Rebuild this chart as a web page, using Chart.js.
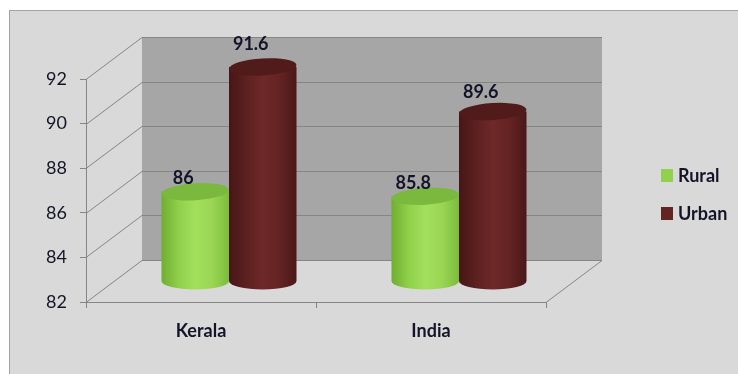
<!DOCTYPE html>
<html>
<head>
<meta charset="utf-8">
<script src="https://cdn.jsdelivr.net/npm/chart.js@4"></script>
<style>
  html, body { margin: 0; padding: 0; background: #ffffff; }
  canvas { display: block; }
</style>
</head>
<body>
<canvas id="chart" width="738" height="374"></canvas>
<script>
// Data
const categories = ['Kerala', 'India'];
const ruralValues = [86, 85.8];
const urbanValues = [91.6, 89.6];
const yTicks = [82, 84, 86, 88, 90, 92];

const seriesNames = ['Rural', 'Urban'];
const seriesColors = ['#92d050', '#632523'];

// Depth of the 3D box (back wall is shifted right / up from the front axis)
const DEPTH_X = 56;
const DEPTH_Y = -42;
const TEXT = '#141428';

/**
 * Cylinder shading per series
 */
const SHADES = [
    { stops: ['#6fae30', '#8fcf4a', '#a2e05c', '#9ad654', '#7cbc3c'], top: '#7ab93e' },
    { stops: ['#471616', '#5c2020', '#6e2828', '#642323', '#4a1818'], top: '#511b1b' }
];

function drawCylinder(ctx, cx, topY, bottomY, w, shade) {
    const rx = w / 2;
    const ry = 8.5;
    const grad = ctx.createLinearGradient(cx - rx, 0, cx + rx, 0);
    shade.stops.forEach((c, i) => grad.addColorStop(i / (shade.stops.length - 1), c));

    ctx.beginPath();
    ctx.moveTo(cx - rx, topY);
    ctx.lineTo(cx - rx, bottomY);
    ctx.ellipse(cx, bottomY, rx, ry, 0, Math.PI, 0, true);
    ctx.lineTo(cx + rx, topY);
    ctx.closePath();
    ctx.fillStyle = grad;
    ctx.fill();

    // top face, slightly tilted like the original
    ctx.beginPath();
    ctx.ellipse(cx, topY, rx, ry, -0.06, 0, Math.PI * 2);
    ctx.fillStyle = shade.top;
    ctx.fill();
}

const boxPlugin = {
    id: 'box3d',
    beforeDraw(chart) {
        const ctx = chart.ctx;
        ctx.save();
        ctx.fillStyle = '#ffffff';
        ctx.fillRect(0, 0, chart.width, chart.height);
        ctx.fillStyle = '#d9d9d9';
        ctx.fillRect(9.5, 10.5, chart.width, chart.height);
        ctx.strokeStyle = '#a3a3a3';
        ctx.lineWidth = 1;
        ctx.strokeRect(9.5, 10.5, chart.width, chart.height);
        ctx.restore();
    },
    beforeDatasetsDraw(chart) {
        const ctx = chart.ctx;
        const area = chart.chartArea;
        const y = chart.scales.y;
        const backLeft = area.left + DEPTH_X;
        const backRight = area.right + DEPTH_X;
        const backTop = y.getPixelForValue(yTicks[yTicks.length - 1]) + DEPTH_Y;
        const backBottom = y.getPixelForValue(yTicks[0]) + DEPTH_Y;

        ctx.save();
        // back wall
        ctx.fillStyle = '#a6a6a6';
        ctx.fillRect(backLeft, backTop, backRight - backLeft, backBottom - backTop);

        // grid on back wall and side wall diagonals
        ctx.strokeStyle = '#858585';
        ctx.lineWidth = 1;
        yTicks.forEach(v => {
            const py = Math.round(y.getPixelForValue(v)) + 0.5;
            ctx.beginPath();
            ctx.moveTo(backLeft, py + DEPTH_Y);
            ctx.lineTo(backRight, py + DEPTH_Y);
            ctx.stroke();
            ctx.beginPath();
            ctx.moveTo(area.left, py);
            ctx.lineTo(backLeft, py + DEPTH_Y);
            ctx.stroke();
        });

        // floor right edge
        ctx.beginPath();
        ctx.moveTo(area.right, area.bottom + 0.5);
        ctx.lineTo(backRight, area.bottom + DEPTH_Y + 0.5);
        ctx.stroke();

        // cylinders at mid depth
        const baseY = y.getPixelForValue(yTicks[0]) + DEPTH_Y / 2;
        chart.data.datasets.forEach((ds, di) => {
            const meta = chart.getDatasetMeta(di);
            meta.data.forEach(bar => {
                const cx = bar.x + DEPTH_X / 2;
                const topY = bar.y + DEPTH_Y / 2;
                drawCylinder(ctx, cx, topY, baseY, bar.width, SHADES[di]);
            });
        });

        // value labels (taller cylinders get a bit more room, as in the original)
        const frontBase = y.getPixelForValue(yTicks[0]);
        ctx.fillStyle = TEXT;
        ctx.font = 'bold 18px Lato';
        ctx.textAlign = 'center';
        ctx.textBaseline = 'middle';
        chart.data.datasets.forEach((ds, di) => {
            const meta = chart.getDatasetMeta(di);
            meta.data.forEach((bar, i) => {
                const h = frontBase - bar.y;
                const gap = 7 + 0.072 * h;
                ctx.fillText(String(ds.data[i]), bar.x + 16, bar.y + DEPTH_Y / 2 - gap);
            });
        });

        // legend
        ctx.textAlign = 'left';
        const lx = chart.width - 77;
        chart.data.datasets.forEach((ds, di) => {
            const ly = 175 + di * 38;
            ctx.fillStyle = seriesColors[di];
            ctx.fillRect(lx, ly - 6, 12, 13);
            ctx.fillStyle = TEXT;
            ctx.fillText(ds.label, lx + 17, ly + 1);
        });
        ctx.restore();
        return false;
    }
};

Chart.defaults.font.family = 'Lato';

new Chart(document.getElementById('chart'), {
    type: 'bar',
    data: {
        labels: categories,
        datasets: [
            { label: seriesNames[0], data: ruralValues, backgroundColor: seriesColors[0] },
            { label: seriesNames[1], data: urbanValues, backgroundColor: seriesColors[1] }
        ]
    },
    options: {
        responsive: false,
        animation: false,
        devicePixelRatio: 1,
        categoryPercentage: 0.587,
        barPercentage: 1,
        layout: {
            padding: { left: 0, top: 79, right: 192, bottom: 0 }
        },
        plugins: {
            legend: { display: false },
            tooltip: { enabled: false }
        },
        scales: {
            x: {
                offset: true,
                afterFit: (scale) => { scale.height = 72; },
                grid: {
                    offset: true,
                    drawOnChartArea: false,
                    drawTicks: true,
                    tickLength: 6,
                    color: '#858585'
                },
                border: { display: true, color: '#858585' },
                ticks: {
                    color: TEXT,
                    padding: 12,
                    font: { size: 18, weight: 'bold' }
                }
            },
            y: {
                min: 82,
                max: 92,
                afterFit: (scale) => { scale.width = 86; },
                afterBuildTicks: (scale) => {
                    scale.ticks = yTicks.map(v => ({ value: v }));
                },
                grid: {
                    drawOnChartArea: false,
                    drawTicks: true,
                    tickLength: 6,
                    color: '#858585'
                },
                border: { display: true, color: '#858585' },
                ticks: {
                    color: TEXT,
                    padding: 13,
                    font: { size: 18 }
                }
            }
        }
    },
    plugins: [boxPlugin]
});
</script>
</body>
</html>
